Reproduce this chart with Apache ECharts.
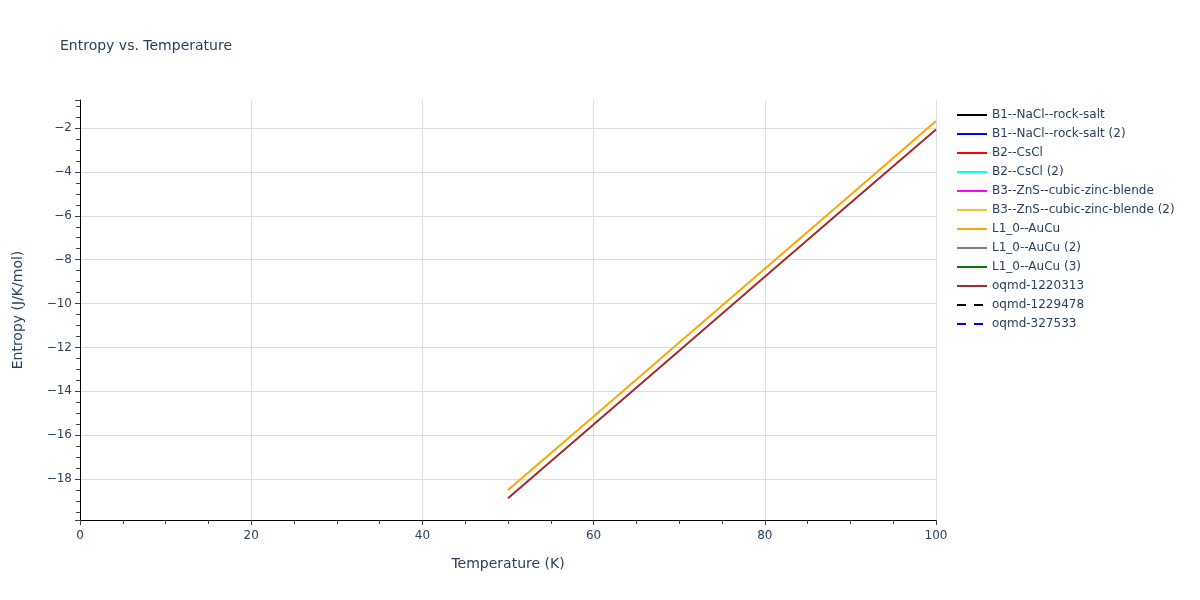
<!DOCTYPE html>
<html><head><meta charset="utf-8">
<script src="https://cdn.jsdelivr.net/npm/echarts@6/dist/echarts.min.js"></script>
<style>html,body{margin:0;padding:0;background:#fff}#c{width:1200px;height:600px}</style>
</head><body><div id="c"></div>
<script>
const temps = [50, 60, 70, 80, 90, 100];
const seriesNames = ["B1--NaCl--rock-salt","B1--NaCl--rock-salt (2)","B2--CsCl","B2--CsCl (2)","B3--ZnS--cubic-zinc-blende","B3--ZnS--cubic-zinc-blende (2)","L1_0--AuCu","L1_0--AuCu (2)","L1_0--AuCu (3)","oqmd-1220313","oqmd-1229478","oqmd-327533"];
const seriesColors = ["#000000","#0000ff","#ff0000","#00ffff","#ff00ff","#f2c12e","#ffa500","#808080","#008000","#a52a2a","#000000","#0000ff"];
const seriesDash = ["solid","solid","solid","solid","solid","solid","solid","solid","solid","solid","dashed","dashed"];
const auCuEntropy = [-18.5, -15.15, -11.78, -8.41, -5.05, -1.68];
const oqmd1220313Entropy = [-18.88, -15.52, -12.15, -8.78, -5.42, -2.06];
const seriesValues = {"L1_0--AuCu": auCuEntropy, "oqmd-1220313": oqmd1220313Entropy};
const xTicks = [0, 20, 40, 60, 80, 100];

const font = '"DejaVu Sans", Verdana, sans-serif';
const txt = '#2a3f5f';
const chart = echarts.init(document.getElementById('c'));
const drawOrder = ["B1--NaCl--rock-salt","B1--NaCl--rock-salt (2)","B2--CsCl","B2--CsCl (2)","B3--ZnS--cubic-zinc-blende","B3--ZnS--cubic-zinc-blende (2)","L1_0--AuCu (2)","L1_0--AuCu (3)","oqmd-1220313","L1_0--AuCu","oqmd-1229478","oqmd-327533"];
const series = seriesNames.map((n, i) => {
  const vals = seriesValues[n] || [];
  return {
    name: n, type: 'line', symbol: 'none', silent: true,
    z: 2 + drawOrder.indexOf(n),
    data: vals.map((v, k) => [temps[k], v]),
    lineStyle: {color: seriesColors[i], width: 2, type: seriesDash[i] === 'dashed' ? [9, 8] : 'solid'},
    itemStyle: {color: seriesColors[i]},
    animation: false
  };
});
chart.setOption({
  backgroundColor: '#fff',
  textStyle: {fontFamily: font},
  title: {text: 'Entropy vs. Temperature', left: 55, top: 34,
    textStyle: {fontFamily: font, fontSize: 14, fontWeight: 'normal', color: txt}},
  legend: {orient: 'vertical', left: 951, top: 104, itemWidth: 30, itemHeight: 12, itemGap: 7,
    itemStyle: {opacity: 0},
    textStyle: {fontFamily: font, fontSize: 12, color: txt},
    data: seriesNames},
  grid: {left: 80, right: 264, top: 100, bottom: 80},
  xAxis: {type: 'value', min: 0, max: 100, interval: 20,
    name: 'Temperature (K)', nameLocation: 'middle', nameGap: 37,
    nameTextStyle: {fontFamily: font, fontSize: 14, color: txt},
    axisLine: {show: true, onZero: false, lineStyle: {color: '#000', width: 1}},
    axisTick: {show: true, length: 5, lineStyle: {color: '#444'}},
    minorTick: {show: true, splitNumber: 4, length: 4, lineStyle: {color: '#444'}},
    axisLabel: {fontFamily: font, fontSize: 12, color: txt, margin: 10,
      formatter: v => xTicks.includes(v) ? String(v) : ''},
    splitLine: {show: true, lineStyle: {color: '#dddddd'}}},
  yAxis: {type: 'value', min: -19.87, max: -0.72, splitNumber: 10,
    name: 'Entropy (J/K/mol)', nameLocation: 'middle', nameGap: 55,
    nameTextStyle: {fontFamily: font, fontSize: 14, color: txt},
    axisLine: {show: true, onZero: false, lineStyle: {color: '#000', width: 1}},
    axisTick: {show: true, length: 5, lineStyle: {color: '#444'}},
    minorTick: {show: true, splitNumber: 4, length: 4, lineStyle: {color: '#444'}},
    axisLabel: {fontFamily: font, fontSize: 12, color: txt, margin: 8, showMinLabel: false, showMaxLabel: false,
      formatter: v => (Math.abs(v - Math.round(v)) < 1e-6 && Math.round(v) % 2 === 0) ? String(v).replace('-', '\u2212') : ''},
    splitLine: {show: true, showMinLine: false, showMaxLine: false, lineStyle: {color: '#dddddd'}}},
  series: series
});
</script></body></html>
